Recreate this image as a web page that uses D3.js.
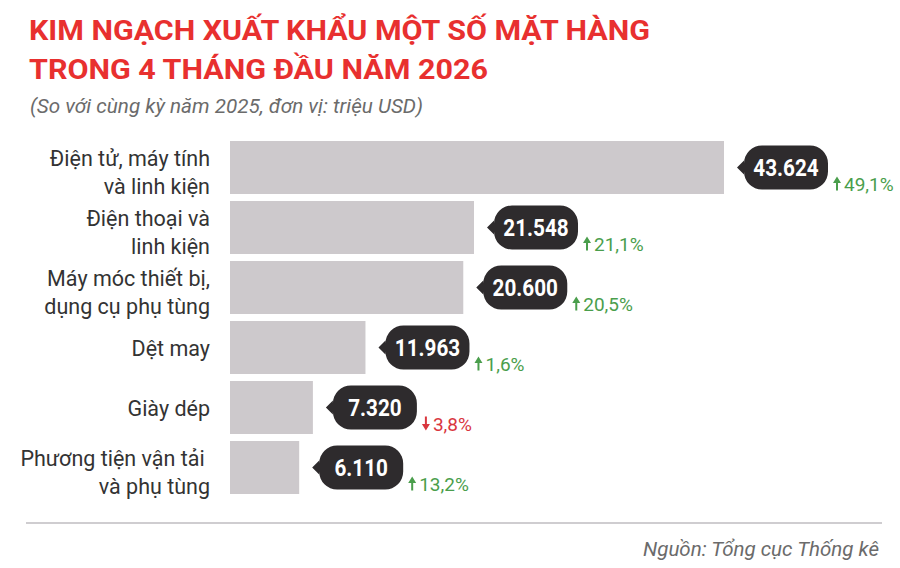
<!DOCTYPE html>
<meta charset="utf-8">
<style>
  body { margin: 0; background: #fff; }
  text { font-family: Roboto, "Noto Sans", sans-serif; }
  .label { font-size: 21.5px; fill: #333; }
  .value { font-size: 23px; font-weight: 700; fill: #fff; }
  .pct { font-size: 19px; }
</style>
<script src="https://d3js.org/d3.v7.min.js"></script>
<body>
<div id="chart"></div>
</body>
<script>
  // data
  var categories = [
    "Điện tử, máy tính và linh kiện",
    "Điện thoại và linh kiện",
    "Máy móc thiết bị, dụng cụ phụ tùng",
    "Dệt may",
    "Giày dép",
    "Phương tiện vận tải và phụ tùng"
  ];
  var labelLines = [
    ["Điện tử, máy tính", "và linh kiện"],
    ["Điện thoại và", "linh kiện"],
    ["Máy móc thiết bị,", "dụng cụ phụ tùng"],
    ["Dệt may"],
    ["Giày dép"],
    ["Phương tiện vận tải\u00a0", "và phụ tùng"]
  ];
  var values = [43624, 21548, 20600, 11963, 7320, 6110];
  var valueLabels = ["43.624", "21.548", "20.600", "11.963", "7.320", "6.110"];
  var changes = [49.1, 21.1, 20.5, 1.6, -3.8, 13.2];
  var changeLabels = ["49,1%", "21,1%", "20,5%", "1,6%", "3,8%", "13,2%"];

  var width = 900, height = 568;

  var svg = d3.select("#chart").append("svg")
      .attr("width", width)
      .attr("height", height);

  // title
  svg.append("text")
      .attr("x", 29).attr("y", 40)
      .attr("textLength", 621).attr("lengthAdjust", "spacingAndGlyphs")
      .style("font-size", "28px").style("font-weight", 700).style("fill", "#e8302f")
      .text("KIM NGẠCH XUẤT KHẨU MỘT SỐ MẶT HÀNG");
  svg.append("text")
      .attr("x", 29).attr("y", 79)
      .attr("textLength", 459).attr("lengthAdjust", "spacingAndGlyphs")
      .style("font-size", "28px").style("font-weight", 700).style("fill", "#e8302f")
      .text("TRONG 4 THÁNG ĐẦU NĂM 2026");
  svg.append("text")
      .attr("x", 30).attr("y", 113)
      .attr("textLength", 393).attr("lengthAdjust", "spacingAndGlyphs")
      .style("font-size", "20px").style("font-style", "italic").style("fill", "#6b6b6b")
      .text("(So với cùng kỳ năm 2025, đơn vị: triệu USD)");

  // scales
  var x = d3.scaleLinear().domain([0, d3.max(values)]).range([230, 724]);
  var y = d3.scaleBand().domain(categories).range([141, 494]).paddingInner(7 / 60).paddingOuter(0);

  var rows = svg.selectAll(".row")
      .data(categories)
      .enter().append("g")
      .attr("class", "row");

  // bars
  rows.append("rect")
      .attr("x", x(0))
      .attr("y", function(d) { return y(d); })
      .attr("width", function(d, i) { return x(values[i]) - x(0); })
      .attr("height", y.bandwidth())
      .style("fill", "#cdc9cc");

  // category labels
  rows.each(function(d, i) {
    var g = d3.select(this);
    var cy = y(d) + y.bandwidth() / 2;
    var lines = labelLines[i];
    var t = g.append("text").attr("class", "label").attr("text-anchor", "end")
        .style("white-space", "pre");
    lines.forEach(function(line, j) {
      var base = lines.length === 1 ? cy + 8 : cy - 2 + j * 28.5;
      t.append("tspan").attr("x", 210).attr("y", base).text(line);
    });
  });

  // value bubbles
  var bw = 84, bh = 44, r = 18;
  rows.each(function(d, i) {
    var g = d3.select(this);
    var cy = y(d) + y.bandwidth() / 2;
    var tip = x(values[i]) + 13;
    var left = tip + 7;
    var top = cy - bh / 2;
    var path = d3.path();
    path.moveTo(left + r, top);
    path.lineTo(left + bw - r, top);
    path.arcTo(left + bw, top, left + bw, top + r, r);
    path.lineTo(left + bw, top + bh - r);
    path.arcTo(left + bw, top + bh, left + bw - r, top + bh, r);
    path.lineTo(left + r, top + bh);
    path.arcTo(left, top + bh, left, top + bh - r, r);
    path.lineTo(left, cy + 7);
    path.lineTo(tip, cy);
    path.lineTo(left, cy - 7);
    path.lineTo(left, top + r);
    path.arcTo(left, top, left + r, top, r);
    path.closePath();
    g.append("path").attr("d", path.toString()).style("fill", "#2e2b2d");

    g.append("text").attr("class", "value")
        .attr("transform", "translate(" + (left + bw / 2) + "," + (cy + 8) + ") scale(0.9,1)")
        .attr("text-anchor", "middle")
        .text(valueLabels[i]);

    // change indicator
    var up = changes[i] >= 0;
    var col = up ? "#4a9e4c" : "#d9363e";
    var ax = left + bw + 9, base = top + bh + 1;
    var ah = 14;
    var arrow = up
      ? "M" + ax + "," + (base - ah) + "l-4,6.5h3v" + (ah - 6.5) + "h2v-" + (ah - 6.5) + "h3z"
      : "M" + ax + "," + base + "l-4,-6.5h3v-" + (ah - 6.5) + "h2v" + (ah - 6.5) + "h3z";
    g.append("path").attr("d", arrow).style("fill", col);
    g.append("text").attr("class", "pct")
        .attr("x", ax + 7).attr("y", base)
        .style("fill", col)
        .text(changeLabels[i]);
  });

  // footer
  svg.append("line")
      .attr("x1", 26).attr("x2", 882).attr("y1", 523).attr("y2", 523)
      .style("stroke", "#cfcdd0").style("stroke-width", 2);
  svg.append("text")
      .attr("x", 879).attr("y", 556)
      .attr("text-anchor", "end")
      .attr("textLength", 236).attr("lengthAdjust", "spacingAndGlyphs")
      .style("font-size", "20px").style("font-style", "italic").style("fill", "#6b6b6b")
      .text("Nguồn: Tổng cục Thống kê");
</script>
